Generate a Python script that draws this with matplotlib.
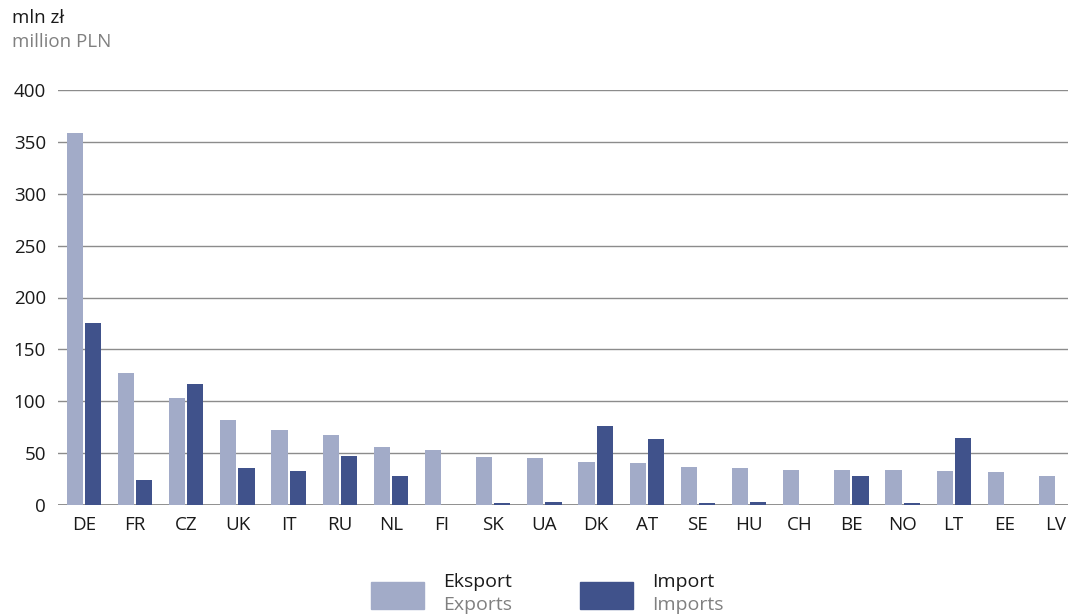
import matplotlib
matplotlib.use("Agg")
import matplotlib.pyplot as plt
from matplotlib.patches import Rectangle
import numpy as np

categories = ["DE", "FR", "CZ", "UK", "IT", "RU", "NL", "FI", "SK", "UA",
              "DK", "AT", "SE", "HU", "CH", "BE", "NO", "LT", "EE", "LV"]
exports = [359, 127, 103, 82, 72, 67.5, 56, 53, 46, 45,
           41.5, 40.5, 36.6, 35.7, 33.7, 33.7, 33.7, 32.8, 31.8, 28]
imports = [175.5, 24.4, 116.6, 35.7, 33, 47, 28, 0, 1.5, 3,
           76, 63.5, 2.2, 3, 0, 28, 1.5, 64.5, 0, 0]
yticks = [0, 50, 100, 150, 200, 250, 300, 350, 400]

EXP_COLOR = "#A2ABC8"
IMP_COLOR = "#40528B"
FONT = "Open Sans"

plt.rcParams["font.family"] = [FONT, "DejaVu Sans"]

W, H = 1068, 615
left_px, right_px = 58.4, 1081.6
fig = plt.figure(figsize=(W / 100, H / 100), dpi=100)
ax = fig.add_axes([left_px / W, 1 - 505 / H, (right_px - left_px) / W, (505 - 90) / H])
ax.set_clip_on(False)

x = np.arange(len(categories))
bw = 0.315
gap = 0.04
ax.bar(x - bw / 2 - gap / 2, exports, width=bw, color=EXP_COLOR, zorder=3)
ax.bar(x + bw / 2 + gap / 2, imports, width=bw, color=IMP_COLOR, zorder=3)

ax.set_xlim(-0.5, len(categories) - 0.5)
ax.set_ylim(0, 400)
ax.set_yticks(yticks)
ax.set_yticklabels([str(v) for v in yticks])
ax.set_xticks(x)
ax.set_xticklabels(categories)
for s in ax.spines.values():
    s.set_visible(False)
ax.tick_params(axis="both", length=0, labelsize=13.5, colors="#1a1a1a")
ax.tick_params(axis="y", pad=9)
ax.tick_params(axis="x", pad=8)
for v in yticks[1:]:
    ax.axhline(v, color="#8c8c8c", linewidth=1.0, zorder=1)
ax.axhline(0, color="#6e6e6e", linewidth=1.8, zorder=2)

fig.text(12 / W, 1 - 18 / H, "mln zł", fontsize=13.5, color="#1a1a1a", va="center", ha="left")
fig.text(12 / W, 1 - 42 / H, "million PLN", fontsize=13.5, color="#808080", va="center", ha="left")

# legend
fig.patches.append(Rectangle((371 / W, 1 - 609 / H), 53 / W, 27 / H,
                             transform=fig.transFigure, color=EXP_COLOR, figure=fig))
fig.patches.append(Rectangle((580 / W, 1 - 609 / H), 53 / W, 27 / H,
                             transform=fig.transFigure, color=IMP_COLOR, figure=fig))
fig.text(443 / W, 1 - 582 / H, "Eksport", fontsize=14, color="#1a1a1a", va="center", ha="left")
fig.text(443 / W, 1 - 605 / H, "Exports", fontsize=14, color="#808080", va="center", ha="left")
fig.text(652 / W, 1 - 582 / H, "Import", fontsize=14, color="#1a1a1a", va="center", ha="left")
fig.text(652 / W, 1 - 605 / H, "Imports", fontsize=14, color="#808080", va="center", ha="left")

fig.savefig("out.png", dpi=100)
